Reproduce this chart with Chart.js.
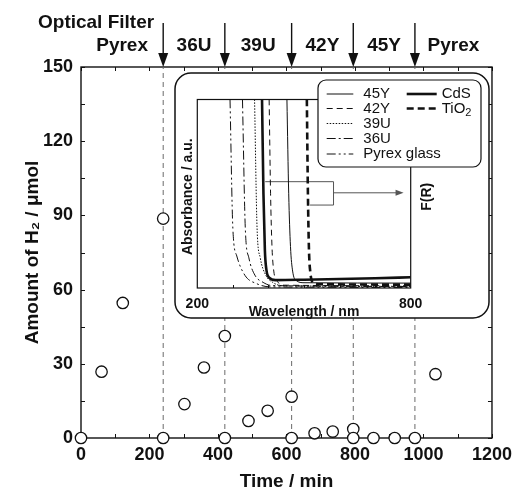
<!DOCTYPE html>
<html>
<head>
<meta charset="utf-8">
<script src="https://cdn.jsdelivr.net/npm/chart.js@4.4.0/dist/chart.umd.min.js"></script>
<style>
  html, body { margin: 0; padding: 0; background: #fff; }
  #wrap { position: relative; width: 518px; height: 493px; }
  #main { position: absolute; left: 0; top: 0; }
  #inset { position: absolute; left: 174px; top: 72px; }
</style>
</head>
<body>
<div id="wrap">
  <canvas id="main" width="518" height="493"></canvas>
  <canvas id="inset" width="316" height="247"></canvas>
</div>
<script>
// H2 evolved at each sampling time (min)
const timeMin = [0, 60, 122, 240, 240, 302, 359, 420, 420, 489, 545, 615, 615, 682, 735, 795, 795, 854, 916, 975, 1035];
const h2Umol  = [0, 26.8, 54.6, 88.7, 0, 13.7, 28.5, 41.2, 0, 6.9, 11.0, 16.7, 0, 1.9, 2.6, 3.6, 0, 0, 0, 0, 25.8];

// optical filter sequence, switched at these times
const filterChanges = [240, 420, 615, 795, 975];
const filterNames = ['Pyrex', '36U', '39U', '42Y', '45Y', 'Pyrex'];

// inset: absorption edges of the filters and diffuse reflectance of the catalysts
const pyrexWl = [292, 300, 311, 334, 367, 405, 800];
const pyrexAbs = [100, 31.5, 17, 6.7, 2.3, 0.6, 0.3];
const u36Wl = [327, 335, 345, 362, 385, 410, 800];
const u36Abs = [100, 31.5, 16, 6.8, 3, 1.3, 0.8];
const u39Wl = [361, 368, 377, 392, 412, 440, 800];
const u39Abs = [100, 32, 16, 7, 3, 1.2, 0.9];
const y42Wl = [402, 406, 410, 415, 425, 445, 800];
const y42Abs = [100, 50, 22, 9, 3.5, 1.5, 1.2];
const y45Wl = [452, 457, 462, 468, 478, 500, 800];
const y45Abs = [100, 50, 22, 9, 4, 2.8, 2.6];
const cdsWl = [382, 386, 390, 394, 402, 420, 500, 600, 700, 800];
const cdsFR = [100, 50, 20, 10, 5.5, 4.2, 4.4, 4.8, 5.2, 5.7];
const tio2Wl = [508, 511, 514, 518, 525, 540, 800];
const tio2FR = [100, 50, 20, 8, 3, 2, 1.8];

// bracket pointing the catalyst curves to the F(R) axis (nm, a.u.)
const bracketUpper = [391, 583, 56.4];
const bracketLower = [517, 583, 44];
const bracketArrow = [583, 780, 50.5];

const ink = '#111';
const FONT = "'Liberation Sans', Arial, Helvetica, sans-serif";
Chart.defaults.font.family = FONT;
Chart.defaults.color = ink;

const toXY = (xs, ys) => xs.map((v, i) => ({ x: v, y: ys[i] }));

// ---------- main chart ----------
const mainDecor = {
  id: 'mainDecor',
  beforeDatasetsDraw(chart) {
    const { ctx, chartArea: a, scales: { x, y } } = chart;
    ctx.save();
    ctx.strokeStyle = ink;
    ctx.lineWidth = 1;
    ctx.beginPath();
    for (let t = 0; t <= 1200; t += 100) {
      const px = Math.round(x.getPixelForValue(t)) + 0.5;
      ctx.moveTo(px, a.bottom); ctx.lineTo(px, a.bottom - 4);
      ctx.moveTo(px, a.top); ctx.lineTo(px, a.top + 4);
    }
    for (let v = 0; v <= 150; v += 15) {
      const py = Math.round(y.getPixelForValue(v)) + 0.5;
      ctx.moveTo(a.left, py); ctx.lineTo(a.left + 4, py);
      ctx.moveTo(a.right, py); ctx.lineTo(a.right - 4, py);
    }
    ctx.stroke();
    ctx.lineWidth = 1.4;
    ctx.strokeRect(a.left, a.top, a.right - a.left, a.bottom - a.top);
    ctx.restore();
  },
  afterDraw(chart) {
    const { ctx, chartArea: a, scales: { x } } = chart;
    ctx.save();
    ctx.fillStyle = ink;
    ctx.strokeStyle = ink;
    ctx.font = 'bold 19px ' + FONT;
    ctx.textBaseline = 'alphabetic';
    ctx.textAlign = 'left';
    ctx.fillText('Optical Filter', 38, 28.3);

    const bounds = [0, ...filterChanges, 1200];
    ctx.textAlign = 'center';
    filterNames.forEach((name, i) => {
      const mid = (bounds[i] + bounds[i + 1]) / 2;
      ctx.fillText(name, x.getPixelForValue(mid), 50.7);
    });

    filterChanges.forEach(t => {
      const px = x.getPixelForValue(t);
      ctx.lineWidth = 1.4;
      ctx.beginPath();
      ctx.moveTo(px, 23);
      ctx.lineTo(px, 56);
      ctx.stroke();
      ctx.beginPath();
      ctx.moveTo(px - 5, 53);
      ctx.lineTo(px + 5, 53);
      ctx.lineTo(px, a.top);
      ctx.closePath();
      ctx.fill();
    });
    ctx.restore();
  }
};

const guideSets = filterChanges.map(t => ({
  data: [{ x: t, y: 0 }, { x: t, y: 150 }],
  showLine: true,
  borderColor: '#6a6a6a',
  borderWidth: 1,
  borderDash: [5, 4],
  pointRadius: 0,
  order: 2
}));

new Chart(document.getElementById('main'), {
  type: 'scatter',
  data: {
    datasets: [
      {
        data: toXY(timeMin, h2Umol),
        pointRadius: 5.7,
        pointBorderWidth: 1.3,
        pointBorderColor: ink,
        pointBackgroundColor: '#fff',
        clip: false,
        order: 0
      },
      ...guideSets
    ]
  },
  options: {
    responsive: false,
    animation: false,
    devicePixelRatio: 1,
    layout: { padding: { top: 67, right: 20, left: 0, bottom: 0 } },
    plugins: { legend: { display: false }, tooltip: { enabled: false } },
    scales: {
      x: {
        type: 'linear',
        min: 0, max: 1200,
        ticks: { stepSize: 200, padding: 6, font: { size: 18, weight: 'bold' }, maxRotation: 0, callback: v => String(v) },
        grid: { display: false, drawTicks: false },
        border: { display: false },
        title: { display: true, text: 'Time / min', font: { size: 19, weight: 'bold' }, padding: { top: 0, bottom: 0 } },
        afterFit(scale) { scale.height = 55; }
      },
      y: {
        min: 0, max: 150,
        ticks: { stepSize: 30, padding: 8, font: { size: 18, weight: 'bold' }, callback: v => String(v) },
        grid: { display: false, drawTicks: false },
        border: { display: false },
        title: { display: true, text: 'Amount of H\u2082 / \u03bcmol', font: { size: 19, weight: 'bold' }, padding: { top: 21, bottom: 0 } },
        afterFit(scale) { scale.width = 81; }
      }
    }
  },
  plugins: [mainDecor]
});

// ---------- inset ----------
const insetDecor = {
  id: 'insetDecor',
  beforeDraw(chart) {
    const { ctx, width, height } = chart;
    ctx.save();
    ctx.fillStyle = '#fff';
    ctx.strokeStyle = ink;
    ctx.lineWidth = 1.5;
    ctx.beginPath();
    ctx.roundRect(1, 1, width - 2, height - 2, 16);
    ctx.fill();
    ctx.stroke();
    ctx.restore();
  },
  beforeDatasetsDraw(chart) {
    const { ctx, chartArea: a, scales: { x, y } } = chart;
    ctx.save();
    ctx.strokeStyle = ink;
    ctx.lineWidth = 1.2;
    ctx.strokeRect(a.left, a.top, a.right - a.left, a.bottom - a.top);
    ctx.lineWidth = 1;
    ctx.beginPath();
    for (let w = 300; w <= 700; w += 100) {
      const px = Math.round(x.getPixelForValue(w)) + 0.5;
      ctx.moveTo(px, a.bottom); ctx.lineTo(px, a.bottom - 3);
    }
    ctx.stroke();

    // bracket + arrow to F(R)
    ctx.strokeStyle = '#555';
    ctx.fillStyle = '#555';
    ctx.lineWidth = 1;
    const up = y.getPixelForValue(bracketUpper[2]);
    const lo = y.getPixelForValue(bracketLower[2]);
    const bx = x.getPixelForValue(bracketUpper[1]);
    ctx.beginPath();
    ctx.moveTo(x.getPixelForValue(bracketUpper[0]), up);
    ctx.lineTo(bx, up);
    ctx.lineTo(bx, lo);
    ctx.lineTo(x.getPixelForValue(bracketLower[0]), lo);
    const ay = y.getPixelForValue(bracketArrow[2]);
    const ax = x.getPixelForValue(bracketArrow[1]);
    ctx.moveTo(x.getPixelForValue(bracketArrow[0]), ay);
    ctx.lineTo(ax - 6, ay);
    ctx.stroke();
    ctx.beginPath();
    ctx.moveTo(ax - 8, ay - 3);
    ctx.lineTo(ax, ay);
    ctx.lineTo(ax - 8, ay + 3);
    ctx.closePath();
    ctx.fill();
    ctx.restore();
  },
  afterDraw(chart) {
    const { ctx, chartArea: a } = chart;
    ctx.save();
    ctx.fillStyle = ink;
    ctx.font = 'bold 14px ' + FONT;
    ctx.textAlign = 'center';
    ctx.textBaseline = 'middle';

    ctx.save();
    ctx.translate(14, (a.top + a.bottom) / 2 + 3);
    ctx.rotate(-Math.PI / 2);
    ctx.fillText('Absorbance / a.u.', 0, 0);
    ctx.restore();

    ctx.save();
    ctx.translate(a.right + 16, (a.top + a.bottom) / 2 + 3);
    ctx.rotate(-Math.PI / 2);
    ctx.fillText('F(R)', 0, 0);
    ctx.restore();

    // legend box
    ctx.strokeStyle = ink;
    ctx.lineWidth = 1.2;
    ctx.beginPath();
    ctx.roundRect(144, 8, 163, 87, 8);
    ctx.fillStyle = '#fff';
    ctx.fill();
    ctx.stroke();

    ctx.font = '15px ' + FONT;
    ctx.textAlign = 'left';
    ctx.fillStyle = ink;
    const rows = [22, 36.5, 51.5, 66.5, 82];
    chart.data.datasets.forEach(ds => {
      const col = ds.legendCol, row = rows[ds.legendRow];
      const x0 = col === 0 ? 152.7 : 232.7;
      const x1 = col === 0 ? 179.3 : 262.7;
      const tx = col === 0 ? 189.3 : 267.7;
      ctx.strokeStyle = ds.borderColor;
      ctx.lineWidth = ds.borderWidth;
      ctx.setLineDash(ds.borderDash || []);
      ctx.beginPath();
      ctx.moveTo(x0, row);
      ctx.lineTo(x1, row);
      ctx.stroke();
      ctx.setLineDash([]);
      if (ds.label === 'TiO2') {
        ctx.fillText('TiO', tx, row);
        const w = ctx.measureText('TiO').width;
        ctx.font = '11px ' + FONT;
        ctx.fillText('2', tx + w, row + 4);
        ctx.font = '15px ' + FONT;
      } else {
        ctx.fillText(ds.label, tx, row);
      }
    });
    ctx.restore();
  }
};

function curve(label, xs, ys, width, dash, col, row) {
  return {
    label,
    data: toXY(xs, ys),
    borderColor: ink,
    borderWidth: width,
    borderDash: dash,
    pointRadius: 0,
    showLine: true,
    cubicInterpolationMode: 'monotone',
    legendCol: col,
    legendRow: row
  };
}

new Chart(document.getElementById('inset'), {
  type: 'scatter',
  data: {
    datasets: [
      curve('45Y', y45Wl, y45Abs, 1, [], 0, 0),
      curve('42Y', y42Wl, y42Abs, 1, [6, 4], 0, 1),
      curve('39U', u39Wl, u39Abs, 1, [1.5, 1.5], 0, 2),
      curve('36U', u36Wl, u36Abs, 1, [9, 3, 2, 3], 0, 3),
      curve('Pyrex glass', pyrexWl, pyrexAbs, 1, [9, 3, 2, 3, 2, 3], 0, 4),
      curve('CdS', cdsWl, cdsFR, 2.6, [], 1, 0),
      curve('TiO2', tio2Wl, tio2FR, 2.6, [7, 4], 1, 1)
    ]
  },
  options: {
    responsive: false,
    animation: false,
    devicePixelRatio: 1,
    layout: { padding: { top: 27.5, right: 79.3, left: 23.3, bottom: 0 } },
    plugins: { legend: { display: false }, tooltip: { enabled: false } },
    scales: {
      x: {
        type: 'linear',
        min: 200, max: 800,
        ticks: {
          stepSize: 100, padding: 8, maxRotation: 0, autoSkip: false,
          font: { size: 14, weight: 'bold' },
          callback: v => (v === 200 || v === 800) ? String(v) : ''
        },
        grid: { display: false, drawTicks: false },
        border: { display: false },
        title: { display: true, text: 'Wavelength / nm', font: { size: 14, weight: 'bold' }, padding: { top: 0, bottom: -2 } },
        afterFit(scale) { scale.height = 31; }
      },
      y: {
        display: false,
        min: 0, max: 100
      }
    }
  },
  plugins: [insetDecor]
});
</script>
</body>
</html>
